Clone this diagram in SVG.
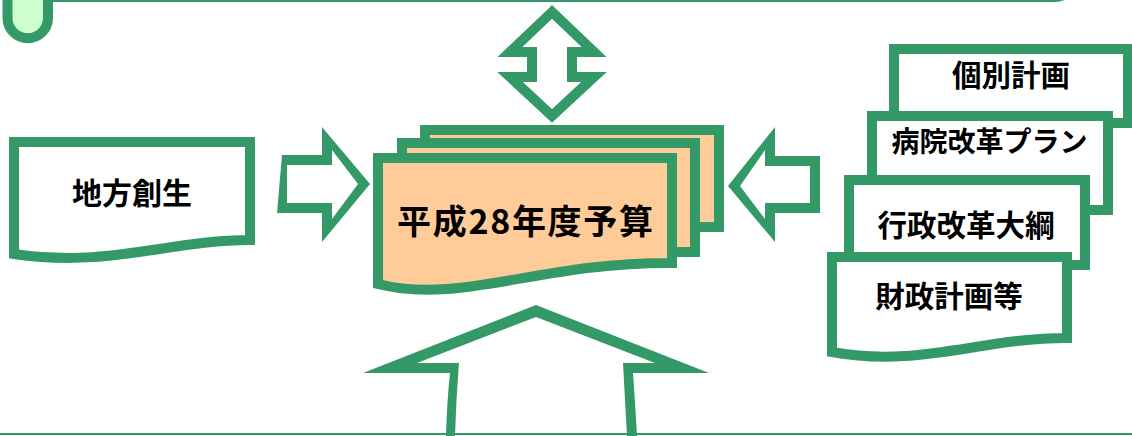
<svg xmlns="http://www.w3.org/2000/svg" width="1132" height="436" viewBox="0 0 1132 436">
<style>
.ln{fill:none;stroke:#339966;stroke-width:10;stroke-linejoin:miter;stroke-miterlimit:10}
.doc{fill:#ffffff;stroke:#339966;stroke-width:10;stroke-linejoin:miter}
.pk{fill:#ffcc99;stroke:#339966;stroke-width:10;stroke-linejoin:miter}
.band{fill:#339966;fill-rule:evenodd;stroke:none}
.t{font-family:"Noto Sans CJK JP","Noto Sans CJK SC",sans-serif;font-weight:bold;fill:#000000;text-anchor:middle}
</style>
<g id="top-panel">
<path d="M7.5,-12 V18 A20.25,20.25 0 0 0 48,18 V-12 Z" fill="#ccffcc" stroke="#339966" stroke-width="10"/>
<path d="M48,0 H1055 Q1063,0 1068,-5" fill="none" stroke="#339966" stroke-width="4"/>
</g>
<g id="bottom-line">
<line x1="0" y1="434" x2="1132" y2="434" stroke="#339966" stroke-width="2"/>
</g>
<g id="connectors">
<path class="ln" stroke-miterlimit="2" d="M552,12 L510,52 L532,52 L532,77 L510,77 L552,116 L594,77 L572,77 L572,52 L594,52 Z" fill="#ffffff"/>
<path class="band" d="M282,155 L322,155 L322,127 L370,184 L322,242 L322,213 L277,213 Z M287,165 L332,165 L332,150 L358,184 L332,219 L332,203 L287,203 Z"/>
<path class="band" d="M820,156 L775,156 L775,127 L728,186 L775,242 L775,213 L820,213 Z M810,166 L765,166 L765,150 L740,186 L765,219 L765,203 L810,203 Z"/>
<path class="band" d="M446,436 Q447,400 450,373 L363,373 L536,305 L709,373 L633,373 Q635,400 637,436 Z M455,436 Q456,400 459,363 L417,363 L536,317 L655,363 L623,363 Q625,400 627,436 Z"/>
</g>
<g id="chiho-sosei">
<path class="doc" d="M14,142 H250 V240 C170,240 110,268 14,254 Z"/>
<text class="t" x="132" y="204" font-size="30">地方創生</text>
</g>
<g id="budget">
<rect class="pk" x="425" y="130" width="294" height="97"/>
<rect class="pk" x="402" y="143" width="293" height="109"/>
<path class="pk" d="M378,158 H672 V263 C540,262 460,305 378,284 Z"/>
<text class="t" x="525" y="234" font-size="34" textLength="256" lengthAdjust="spacing">平成28年度予算</text>
</g>
<g id="kobetsu-keikaku">
<rect class="doc" x="894" y="49" width="234" height="74"/>
<text class="t" x="1011" y="86" font-size="29.5">個別計画</text>
</g>
<g id="byoin-kaikaku">
<rect class="doc" x="872" y="116" width="236" height="94"/>
<text class="t" x="989.5" y="152" font-size="28">病院改革プラン</text>
</g>
<g id="gyosei-kaikaku">
<rect class="doc" x="849" y="180" width="236" height="85"/>
<text class="t" x="966" y="236" font-size="29.5">行政改革大綱</text>
</g>
<g id="zaisei-keikaku">
<path class="doc" d="M832,257 H1067 V338 C980,338 920,368 832,352 Z"/>
<text class="t" x="949" y="307" font-size="29.5">財政計画等</text>
</g>
</svg>
